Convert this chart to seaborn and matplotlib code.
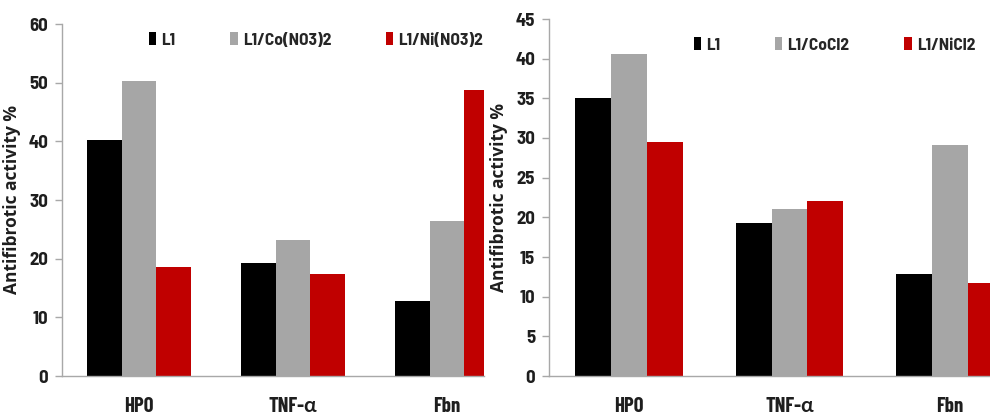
import matplotlib
matplotlib.use("Agg")
import matplotlib.pyplot as plt
import pandas as pd
import seaborn as sns

categories = ["HPO", "TNF-α", "Fbn"]

# Nitrate complexes
left_series = ["L1", "L1/Co(NO3)2", "L1/Ni(NO3)2"]
left_l1 = [40.3, 19.3, 12.8]
left_co = [50.3, 23.2, 26.4]
left_ni = [18.5, 17.4, 48.7]

# Chloride complexes
right_series = ["L1", "L1/CoCl2", "L1/NiCl2"]
right_l1 = [35.0, 19.3, 12.9]
right_co = [40.6, 21.1, 29.1]
right_ni = [29.5, 22.1, 11.7]

ylabel = "Antifibrotic activity %"
bar_colors = ["#000000", "#A6A6A6", "#C00000"]

sns.set_theme(style="white")
FONT = ["Barlow Semi Condensed", "Lato", "DejaVu Sans"]
NARROW = ["Barlow Condensed", "Lato", "DejaVu Sans"]
plt.rcParams["font.family"] = FONT
plt.rcParams["font.weight"] = "bold"
text_dark = "#1E1E1E"
axis_gray = "#A8A8A8"


def long_frame(series, values):
    rows = []
    for name, vals in zip(series, values):
        for cat, v in zip(categories, vals):
            rows.append({"cat": cat, "series": name, "value": v})
    return pd.DataFrame(rows)


def draw_panel(ax, df, series, ymax, ystep, xright, legend_xy):
    sns.barplot(data=df, x="cat", y="value", hue="series", hue_order=series,
                order=categories, palette=bar_colors, saturation=1,
                width=0.67, gap=0, edgecolor="none", linewidth=0, ax=ax)
    ax.set_xlim(-0.5, xright)
    ax.set_ylim(0, ymax)
    ax.set_yticks(range(0, ymax + 1, ystep))
    ax.set_xlabel("")
    ax.set_ylabel(ylabel, fontsize=12.5, fontweight="bold", labelpad=5,
                  color=text_dark, family=["Open Sans", "DejaVu Sans"])
    for side in ("top", "right"):
        ax.spines[side].set_visible(False)
    for side in ("left", "bottom"):
        ax.spines[side].set_color(axis_gray)
        ax.spines[side].set_linewidth(1.0)
    ax.tick_params(axis="y", which="major", left=True, length=5, width=1,
                   color=axis_gray, labelsize=13.5, pad=5, labelcolor=text_dark)
    ax.tick_params(axis="x", bottom=False, labelsize=15, pad=9,
                   labelcolor=text_dark)
    for lab in ax.get_yticklabels():
        lab.set_fontweight("bold")
    for lab in ax.get_xticklabels():
        lab.set_fontweight("bold")
        lab.set_family(NARROW)
    handles, labels = ax.get_legend_handles_labels()
    ax.legend(handles, labels, loc="center left", bbox_to_anchor=legend_xy,
              ncol=3, frameon=False, handlelength=0.42, handleheight=0.75,
              handletextpad=0.3, columnspacing=3.15,
              borderaxespad=0, borderpad=0,
              prop={"weight": "bold", "size": 12.5, "family": FONT})


fig = plt.figure(figsize=(9.9, 4.15), dpi=100)
ax1 = fig.add_axes([62 / 990, 39 / 415, 422 / 990, 352 / 415])
ax2 = fig.add_axes([549 / 990, 39 / 415, 481 / 990, 357 / 415])

draw_panel(ax1, long_frame(left_series, [left_l1, left_co, left_ni]),
           left_series, 60, 10, 2.24, (0.206, 0.955))
draw_panel(ax2, long_frame(right_series, [right_l1, right_co, right_ni]),
           right_series, 45, 5, 2.5, (0.301, 0.927))

fig.savefig("out.png", dpi=100, facecolor="white")
